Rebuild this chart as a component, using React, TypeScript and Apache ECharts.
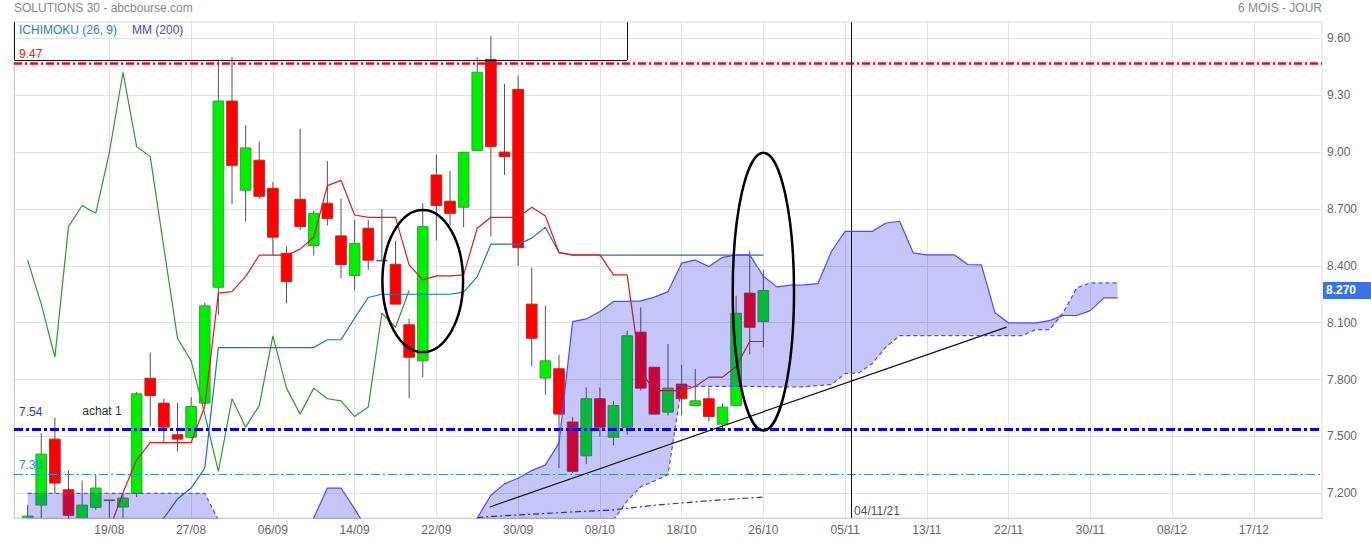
import React, { useEffect, useRef } from "react";
import * as echarts from "echarts";

// ---------- categories (trading days + projected days) ----------
const dates: string[] = [
  "10/08", "11/08", "12/08", "13/08", "16/08", "17/08", "18/08", "19/08", "20/08", "23/08",
  "24/08", "25/08", "26/08", "27/08", "30/08", "31/08", "01/09", "02/09", "03/09", "06/09",
  "07/09", "08/09", "09/09", "10/09", "13/09", "14/09", "15/09", "16/09", "17/09", "20/09",
  "21/09", "22/09", "23/09", "24/09", "27/09", "28/09", "29/09", "30/09", "01/10", "04/10",
  "05/10", "06/10", "07/10", "08/10", "11/10", "12/10", "13/10", "14/10", "15/10", "18/10",
  "19/10", "20/10", "21/10", "22/10", "25/10", "26/10", "27/10", "28/10", "29/10", "02/11",
  "03/11", "05/11", "06/11", "08/11", "09/11", "10/11", "12/11", "13/11", "15/11", "16/11",
  "17/11", "19/11", "20/11", "22/11", "23/11", "24/11", "26/11", "27/11", "29/11", "30/11",
  "01/12", "03/12", "04/12", "06/12", "07/12", "08/12", "10/12", "11/12", "13/12", "14/12",
  "15/12", "17/12", "18/12", "20/12", "21/12", "22/12", "24/12",
];

// ---------- OHLC (index 0 has no visible candle) ----------
const opens: (number | null)[] = [
  null, 6.99, 7.138, 7.486, 7.219, 7.05, 7.126, 7.166, 7.128, 7.2,
  7.807, 7.676, 7.509, 7.496, 7.676, 8.287, 9.269, 8.799, 8.957, 8.809,
  8.466, 8.751, 8.507, 8.73, 8.558, 8.349, 8.598, 8.43, 8.408, 8.089,
  7.899, 8.879, 8.741, 8.709, 9.009, 9.489, 9.0, 9.331, 8.198, 7.808,
  7.857, 7.576, 7.398, 7.699, 7.496, 7.549, 8.05, 7.865, 7.628, 7.776,
  7.663, 7.699, 7.565, 7.663, 8.256, 8.106,
];
const closes: (number | null)[] = [
  null, 7.08, 7.407, 7.254, 7.084, 7.138, 7.228, 7.166, 7.175, 7.725,
  7.716, 7.549, 7.486, 7.658, 8.189, 9.269, 8.93, 9.022, 8.767, 8.551,
  8.317, 8.607, 8.677, 8.649, 8.407, 8.519, 8.43, 8.43, 8.198, 7.918,
  8.607, 8.718, 8.677, 8.999, 9.421, 9.029, 8.976, 8.496, 8.018, 7.899,
  7.618, 7.316, 7.699, 7.549, 7.663, 8.031, 7.755, 7.618, 7.755, 7.699,
  7.688, 7.605, 7.655, 8.15, 8.076, 8.27,
];
const lows: (number | null)[] = [
  null, 6.95, 7.03, 7.201, 7.04, 7.02, 7.113, 7.05, 7.05, 7.18,
  7.553, 7.468, 7.421, 7.49, 7.67, 8.141, 8.725, 8.633, 8.755, 8.458,
  8.203, 8.589, 8.454, 8.612, 8.333, 8.27, 8.379, 8.43, 8.198, 7.702,
  7.813, 8.533, 8.611, 8.603, 9.009, 8.554, 8.879, 8.401, 7.869, 7.72,
  7.333, 7.307, 7.354, 7.5, 7.453, 7.509, 7.742, 7.618, 7.611, 7.611,
  7.663, 7.579, 7.544, 7.663, 7.934, 7.969,
];
const highs: (number | null)[] = [
  null, 7.14, 7.518, 7.6, 7.321, 7.268, 7.298, 7.166, 7.2, 7.735,
  7.943, 7.699, 7.676, 7.707, 8.206, 9.489, 9.5, 9.143, 9.055, 8.841,
  8.502, 9.122, 8.691, 8.953, 8.753, 8.642, 8.642, 8.7, 8.531, 8.12,
  8.73, 8.988, 8.9, 8.999, 9.5, 9.612, 9.359, 9.403, 8.391, 8.191,
  7.931, 7.602, 7.758, 7.758, 7.688, 8.057, 8.18, 7.865, 7.988, 7.878,
  7.857, 7.758, 7.676, 8.242, 8.48, 8.379,
];

// ---------- Ichimoku lines ----------
const tenkan: (number | null)[] = [
  null, null, null, null, null, null, null, 7.01, 7.203, 7.377,
  7.468, 7.468, 7.468, 7.468, 7.658, 8.256, 8.264, 8.343, 8.456, 8.456,
  8.456, 8.488, 8.551, 8.823, 8.851, 8.668, 8.656, 8.656, 8.656, 8.405,
  8.326, 8.347, 8.347, 8.352, 8.598, 8.656, 8.656, 8.656, 8.709, 8.663,
  8.47, 8.458, 8.458, 8.458, 8.352, 8.352, 7.843, 7.742, 7.742, 7.742,
  7.764, 7.813, 7.813, 7.869, 8.001, 8.001,
];
const kijun: (number | null)[] = [
  null, null, null, null, null, null, null, null, null, null,
  6.97, 7.07, 7.17, 7.228, 7.333, 7.969, 7.969, 7.969, 7.969, 7.969,
  7.969, 7.969, 7.969, 8.01, 8.01, 8.124, 8.233, 8.25, 8.25, 8.25,
  8.25, 8.25, 8.25, 8.261, 8.343, 8.514, 8.514, 8.514, 8.546, 8.603,
  8.47, 8.456, 8.456, 8.456, 8.456, 8.456, 8.456, 8.456, 8.456, 8.456,
  8.456, 8.456, 8.456, 8.456, 8.456, 8.456,
];
const chikou: (number | null)[] = [
  null, 8.43, 8.198, 7.918, 8.607, 8.718, 8.677, 8.999, 9.421, 9.029,
  8.976, 8.496, 8.018, 7.899, 7.618, 7.316, 7.699, 7.549, 7.663, 8.031,
  7.755, 7.618, 7.755, 7.699, 7.688, 7.605, 7.655, 8.15, 8.076, 8.27,
];
const spanSolid: (number | null)[] = [
  null, 6.9, 6.9, 6.9, 6.9, 6.9, 6.9, 6.9, 6.9, 6.9,
  6.9, 6.9, 6.9, 6.9, 6.9, 6.9, 6.9, 6.9, 6.9, 6.9,
  6.9, 6.91, 7.07, 7.228, 7.228, 7.118, 7.0, 6.95, 6.95, 6.95,
  6.95, 6.95, 6.95, 6.95, 7.07, 7.19, 7.25, 7.28, 7.32, 7.35,
  7.465, 8.106, 8.12, 8.159, 8.212, 8.212, 8.215, 8.235, 8.264, 8.414,
  8.431, 8.396, 8.445, 8.458, 8.458, 8.345, 8.289, 8.298, 8.3, 8.306,
  8.477, 8.582, 8.582, 8.582, 8.626, 8.635, 8.468, 8.458, 8.458, 8.458,
  8.407, 8.405, 8.152, 8.099, 8.099, 8.099, 8.111, 8.138, 8.138, 8.164,
  8.231, 8.231,
];
const spanDashed: (number | null)[] = [
  null, 7.2, 7.2, 7.2, 7.2, 7.2, 7.2, 7.2, 7.2, 7.2,
  7.2, 7.2, 7.2, 7.2, 7.2, 7.06, 6.9, 6.9, 6.9, 6.9,
  6.9, 6.9, 6.9, 6.9, 6.9, 6.9, 6.9, 6.9, 6.9, 6.9,
  6.9, 6.9, 6.9, 6.9, 6.9, 6.9, 6.9, 6.9, 6.9, 6.9,
  6.9, 6.9, 6.9, 6.93, 7.06, 7.16, 7.235, 7.265, 7.3, 7.764,
  7.764, 7.764, 7.764, 7.764, 7.764, 7.763, 7.762, 7.762, 7.762, 7.769,
  7.774, 7.832, 7.835, 7.885, 7.972, 8.032, 8.032, 8.032, 8.032, 8.032,
  8.032, 8.032, 8.032, 8.032, 8.032, 8.064, 8.064, 8.152, 8.284, 8.31,
  8.31, 8.31,
];
const mm200: (number | null)[] = [
  null, null, null, null, null, null, null, null, null, null,
  null, null, null, null, null, null, null, null, null, null,
  null, null, null, null, null, null, null, null, null, null,
  null, null, null, null, 7.072, 7.078, 7.082, 7.086, 7.09, 7.094,
  7.098, 7.102, 7.106, 7.109, 7.113, 7.121, 7.129, 7.137, 7.143, 7.149,
  7.155, 7.161, 7.166, 7.171, 7.176, 7.18,
];

// ---------- axis ----------
const yMin = 7.07;
const yMax = 9.686;
const yTicks = [7.2, 7.5, 7.8, 8.1, 8.4, 8.7, 9.0, 9.3, 9.6];
const xLast = 96;

// ---------- levels & drawings ----------
const levelRed = 9.47;
const levelBuy = 7.54;
const levelLight = 7.3;
const lastPrice = 8.27;
const trendLine = [[34.92, 7.128], [72.85, 8.077]];
const cursorX = 61.43;
const cursorLabelY = 7.108;
const cursorLabel = "04/11/21";
const boxRight = 45;
const boxBottom = 9.486;
const ellipses = [
  [30.0, 8.32, 2.96, 0.375],
  [55.0, 8.264, 2.25, 0.733],
];

const FONT = "'Liberation Sans', Arial, sans-serif";

export default function App() {
  const ref = useRef<HTMLDivElement>(null);

  useEffect(() => {
    if (!ref.current) return;
    const chart = echarts.init(ref.current, null, { renderer: "svg" });

    const candleData: number[][] = [];
    for (let i = 0; i < opens.length; i++) {
      if (opens[i] == null) continue;
      candleData.push([i, opens[i] as number, closes[i] as number, lows[i] as number, highs[i] as number]);
    }
    const cloudBase: (number | string)[] = [];
    const cloudDiff: (number | string)[] = [];
    for (let i = 0; i < spanSolid.length; i++) {
      const a = spanSolid[i];
      const b = spanDashed[i];
      if (a == null || b == null) {
        cloudBase.push("-");
        cloudDiff.push("-");
      } else {
        cloudBase.push(Math.min(a, b));
        cloudDiff.push(Math.abs(a - b));
      }
    }
    const labelInterval = (index: number) => index >= 7 && (index - 7) % 6 === 0;

    const option: any = {
      animation: false,
      textStyle: { fontFamily: FONT },
      grid: {
        left: 14,
        right: 49,
        top: 22,
        bottom: 23,
        show: true,
        borderColor: "#dcdcdc",
        borderWidth: 1,
        containLabel: false,
        outerBoundsMode: "none",
      },
      graphic: [
        {
          type: "text",
          left: 14,
          top: 2,
          style: { text: "SOLUTIONS 30 - abcbourse.com", fill: "#888", font: `12px ${FONT}` },
        },
        {
          type: "text",
          right: 49,
          top: 2,
          style: { text: "6 MOIS - JOUR", fill: "#888", font: `12px ${FONT}` },
        },
        {
          type: "text",
          left: 19,
          top: 24,
          z: 20,
          style: { text: "ICHIMOKU (26, 9)", fill: "#2a7ad2", font: `12px ${FONT}` },
        },
        {
          type: "text",
          left: 132,
          top: 24,
          z: 20,
          style: { text: "MM (200)", fill: "#4545f2", font: `12px ${FONT}` },
        },
      ],
      xAxis: [
        {
          type: "category",
          data: dates,
          boundaryGap: false,
          axisLine: { show: true, lineStyle: { color: "#d0d0d0" } },
          axisTick: { show: false },
          axisLabel: { interval: labelInterval, color: "#666", fontSize: 12, margin: 6, fontFamily: FONT },
          splitLine: { show: true, interval: labelInterval, lineStyle: { color: "#e2e2e2", width: 1 } },
        },
        { type: "value", min: 0, max: xLast, show: false },
      ],
      yAxis: [
        {
          type: "value",
          position: "right",
          min: yMin,
          max: yMax,
          axisLine: { show: true, lineStyle: { color: "#d0d0d0" } },
          axisTick: { show: false, customValues: yTicks },
          axisLabel: {
            customValues: yTicks,
            color: "#666",
            fontSize: 12,
            margin: 5,
            padding: [0, 0, 4, 0],
            fontFamily: FONT,
            formatter: (v: number) => (v >= 9 ? v.toFixed(2) : v.toFixed(3)),
          },
          splitLine: { show: true, lineStyle: { color: "#e2e2e2", width: 1 } },
        },
        {
          type: "value",
          position: "right",
          min: yMin,
          max: yMax,
          axisLine: { show: false },
          axisTick: { show: false, customValues: [lastPrice] },
          splitLine: { show: false },
          axisLabel: {
            customValues: [lastPrice],
            formatter: (v: number) => v.toFixed(3),
            color: "#fff",
            fontWeight: "bold",
            fontSize: 12,
            fontFamily: FONT,
            backgroundColor: "#3b73e6",
            padding: [3, 15, 2, 3],
            margin: 1,
          },
        },
      ],
      series: [
        {
          type: "custom",
          name: "candles",
          clip: true,
          z: 2,
          encode: { x: 0, y: [1, 2, 3, 4] },
          data: candleData,
          renderItem: (params: any, api: any) => {
            const i = api.value(0);
            const o = api.value(1);
            const c = api.value(2);
            const l = api.value(3);
            const h = api.value(4);
            const pO = api.coord([i, o]);
            const pC = api.coord([i, c]);
            const pL = api.coord([i, l]);
            const pH = api.coord([i, h]);
            const step = api.coord([i + 1, o])[0] - pO[0];
            const w = step * 0.78;
            const doji = o === c;
            const up = c > o;
            const top = Math.min(pO[1], pC[1]);
            const bh = Math.max(Math.abs(pO[1] - pC[1]), 1);
            return {
              type: "group",
              children: [
                {
                  type: "line",
                  shape: { x1: pH[0], y1: pH[1], x2: pL[0], y2: pL[1] },
                  style: { stroke: "#555", lineWidth: 1 },
                },
                {
                  type: "rect",
                  shape: { x: pO[0] - w / 2, y: top, width: w, height: bh },
                  style: doji
                    ? { fill: "#555", stroke: "#555", lineWidth: 0.5 }
                    : {
                        fill: up ? "#00ee00" : "#ff0000",
                        stroke: up ? "#3f9a3f" : "#b52a2a",
                        lineWidth: 1,
                      },
                },
              ],
            };
          },
        },
        {
          type: "line",
          name: "MM200",
          data: mm200,
          symbol: "none",
          z: 3,
          lineStyle: { color: "#2a2af0", width: 1.2, type: [6, 3, 2, 3] },
        },
        {
          type: "line",
          name: "chikou",
          data: chikou,
          symbol: "none",
          z: 3,
          lineStyle: { color: "#2c9a2c", width: 1.2 },
        },
        {
          type: "line",
          name: "kijun",
          data: kijun,
          symbol: "none",
          z: 3,
          lineStyle: { color: "#1f6fd0", width: 1.2 },
        },
        {
          type: "line",
          name: "tenkan",
          data: tenkan,
          symbol: "none",
          z: 3,
          lineStyle: { color: "#e31a1a", width: 1.2 },
        },
        {
          type: "line",
          name: "cloudBase",
          data: cloudBase,
          stack: "cloud",
          symbol: "none",
          z: 4,
          lineStyle: { opacity: 0 },
        },
        {
          type: "line",
          name: "cloudFill",
          data: cloudDiff,
          stack: "cloud",
          symbol: "none",
          z: 4,
          lineStyle: { opacity: 0 },
          areaStyle: { color: "rgba(20,20,235,0.245)", opacity: 1 },
        },
        {
          type: "line",
          name: "spanSolid",
          data: spanSolid,
          symbol: "none",
          z: 5,
          lineStyle: { color: "#4b4bff", width: 1.2 },
        },
        {
          type: "line",
          name: "spanDashed",
          data: spanDashed,
          symbol: "none",
          z: 5,
          lineStyle: { color: "#4b4bff", width: 1.2, type: [4, 3] },
        },
        {
          type: "scatter",
          name: "annotations",
          xAxisIndex: 1,
          yAxisIndex: 0,
          z: 6,
          symbolSize: 0.1,
          itemStyle: { color: "transparent" },
          data: [[cursorX, cursorLabelY]],
          label: {
            show: true,
            position: "right",
            distance: 3,
            formatter: cursorLabel,
            color: "#222",
            fontSize: 12,
            fontFamily: FONT,
          },
          markLine: {
            silent: true,
            symbol: ["none", "none"],
            animation: false,
            label: { show: false },
            data: [
              {
                yAxis: levelRed,
                lineStyle: { color: "#ff0000", width: 2.5, type: [8, 3, 2, 3] },
                label: {
                  show: true,
                  position: "insideStartTop",
                  distance: [5, 3],
                  formatter: "9.47",
                  color: "#ff1010",
                  fontSize: 12,
                  fontFamily: FONT,
                },
              },
              {
                yAxis: levelBuy,
                lineStyle: { color: "#0000ee", width: 3, type: [9, 3, 3, 3] },
                label: {
                  show: true,
                  position: "insideStartTop",
                  distance: [5, 10],
                  formatter: "{a|7.54}{b|achat 1}",
                  rich: {
                    a: { color: "#2438e0", fontSize: 12, fontFamily: FONT },
                    b: { color: "#333", fontSize: 12, fontFamily: FONT, padding: [0, 0, 2, 40] },
                  },
                },
              },
              {
                yAxis: levelLight,
                lineStyle: { color: "#2f8de4", width: 1.2, type: [9, 3, 2, 3] },
                label: {
                  show: true,
                  position: "insideStartTop",
                  distance: [5, 3],
                  formatter: "7.30",
                  color: "#2f8de4",
                  fontSize: 12,
                  fontFamily: FONT,
                },
              },
              [
                { coord: trendLine[0], lineStyle: { color: "#111", width: 1.2, type: "solid" } },
                { coord: trendLine[1] },
              ],
              [
                { coord: [cursorX, yMin + 0.001], lineStyle: { color: "#111", width: 1, type: "solid" } },
                { coord: [cursorX, yMax - 0.001] },
              ],
              [
                { coord: [0.05, boxBottom], lineStyle: { color: "#111", width: 1, type: "solid" } },
                { coord: [boxRight, boxBottom] },
              ],
              [
                { coord: [boxRight, boxBottom], lineStyle: { color: "#111", width: 1, type: "solid" } },
                { coord: [boxRight, yMax - 0.001] },
              ],
              [
                { coord: [0.05, boxBottom], lineStyle: { color: "#111", width: 1, type: "solid" } },
                { coord: [0.05, yMax - 0.001] },
              ],
            ],
          },
        },
        {
          type: "custom",
          name: "ellipses",
          xAxisIndex: 1,
          yAxisIndex: 0,
          z: 7,
          encode: { x: 0, y: 1 },
          data: ellipses,
          renderItem: (params: any, api: any) => {
            const c = api.coord([api.value(0), api.value(1)]);
            const s = api.size([api.value(2), api.value(3)], [api.value(0), api.value(1)]);
            return {
              type: "ellipse",
              shape: { cx: c[0], cy: c[1], rx: s[0], ry: s[1] },
              style: { fill: "none", stroke: "#000", lineWidth: 2.5 },
            };
          },
        },
      ],
    };

    chart.setOption(option);
    return () => chart.dispose();
  }, []);

  return (
    <div
      ref={ref}
      style={{ position: "fixed", left: 0, top: 0, width: "1371px", height: "541px", background: "#fff" }}
    />
  );
}
